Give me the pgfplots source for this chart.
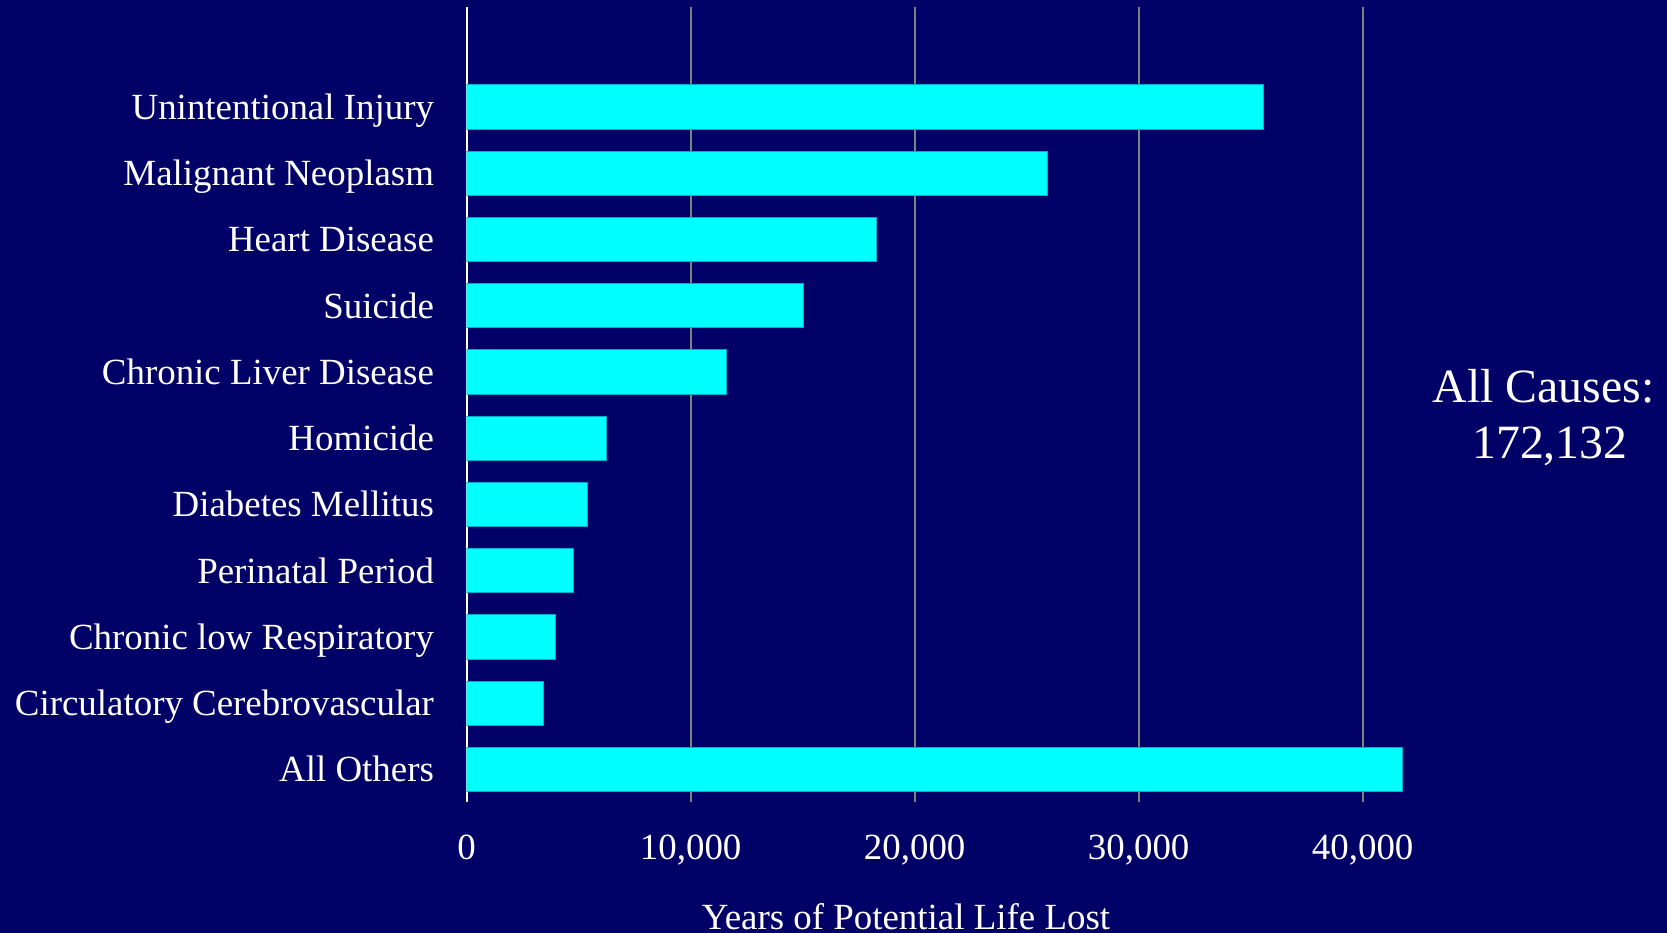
\documentclass[border=0pt]{standalone}
\usepackage{fontspec}
\setmainfont{Liberation Serif}
\usepackage{pgfplots}
\pgfplotsset{compat=1.18}
\definecolor{bgnavy}{RGB}{0,0,102}
\definecolor{barcyan}{RGB}{0,255,255}
\definecolor{baredge}{RGB}{0,170,204}
\definecolor{gridgray}{RGB}{128,128,128}
\begin{document}
\begin{tikzpicture}
\useasboundingbox (0,0) rectangle (16.67,-9.33);
\clip (0,0) rectangle (16.67,-9.33);
\fill[bgnavy] (0,0) rectangle (16.67,-9.33);
\begin{axis}[
  at={(4.667cm,-8.017cm)}, anchor=south west,
  scale only axis, width=10.08cm, height=7.944cm,
  xmin=0, xmax=45000, ymin=-0.486, ymax=11.505,
  xbar, bar width=0.444cm,
  axis line style={draw=none},
  tick style={draw=none},
  major tick length=0pt,
  xtick={10000,20000,30000,40000},
  xticklabels={{10,000},{20,000},{30,000},{40,000}},
  extra x ticks={0}, extra x tick labels={0},
  extra x tick style={grid=major, major grid style={white, line width=0.2mm}},
  xmajorgrids, major grid style={gridgray, line width=0.2mm},
  ytick={0,1,2,3,4,5,6,7,8,9,10},
  yticklabels={All Others, Circulatory Cerebrovascular, Chronic low Respiratory, Perinatal Period, Diabetes Mellitus, Homicide, Chronic Liver Disease, Suicide, Heart Disease, Malignant Neoplasm, Unintentional Injury},
  xticklabel style={anchor=base, yshift=-0.576cm, inner sep=0pt, text=white, font=\fontsize{10.5}{12}\selectfont},
  yticklabel style={anchor=base east, xshift=-0.32cm, yshift=-0.123cm, inner sep=0pt, text=white, font=\fontsize{10.5}{12}\selectfont},
]
\addplot[fill=barcyan, draw=baredge, line width=0.1mm] coordinates {
  (41790,0) (3440,1) (3960,2) (4780,3) (5400,4) (6250,5)
  (11610,6) (15040,7) (18300,8) (25920,9) (35560,10)
};
\end{axis}
\node[anchor=base, text=white, inner sep=0pt, font=\fontsize{10.5}{12}\selectfont] at (9.06,-9.30) {Years of Potential Life Lost};
\node[anchor=base, text=white, inner sep=0pt, font=\fontsize{13.6}{16}\selectfont] at (15.435,-4.027) {All Causes:};
\node[anchor=base, text=white, inner sep=0pt, font=\fontsize{13.6}{16}\selectfont] at (15.499,-4.583) {172,132};
\end{tikzpicture}
\end{document}
